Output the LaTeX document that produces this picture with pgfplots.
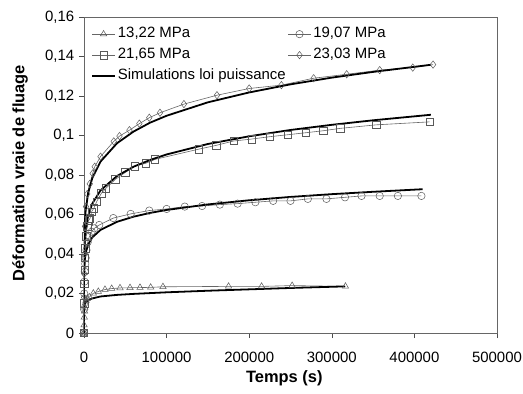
\documentclass[border=0pt]{standalone}
\usepackage{pgfplots}
\pgfplotsset{compat=1.18}
\usepackage{fontspec}
\setmainfont{Liberation Sans}
\begin{document}
\fontsize{14}{16}\selectfont
\begin{tikzpicture}
\begin{axis}[
  scale only axis, width=413bp, height=316bp,
  xmin=0, xmax=500000, ymin=0, ymax=0.16,
  xtick={0,100000,200000,300000,400000,500000},
  ytick={0,0.02,0.04,0.06,0.08,0.1,0.12,0.14,0.16},
  scaled x ticks=false, scaled y ticks=false,
  /pgf/number format/assume math mode=true,
  xticklabel style={/tikz/yshift=-9bp, /pgf/number format/.cd, fixed, 1000 sep={}},
  yticklabel style={/pgf/number format/.cd, fixed, use comma, precision=2},
  tick align=outside, xtick pos=left, ytick pos=left,
  major tick length=5bp,
  axis line style={black!60}, tick style={black!70},
  tick label style={font=\fontsize{15}{17}\selectfont},
  xlabel={Temps (s)}, ylabel={Déformation vraie de fluage},
  label style={font=\fontsize{16.5}{18}\selectfont\bfseries},
  xlabel style={at={(axis description cs:0.485,-0.142)}, anchor=center},
  ylabel style={at={(axis description cs:-0.155,0.506)}, anchor=center},
  legend style={draw=none, fill=none, at={(axis description cs:0.012,0.982)}, anchor=north west,
    font=\fontsize{15}{17}\selectfont, /tikz/column sep=0bp, /tikz/row sep=2.5bp,
    /tikz/every even column/.append style={column sep=0bp},
    nodes={inner ysep=2bp, text height=11bp, text depth=3.5bp},
    cells={anchor=west}, inner sep=2bp},
  legend columns=2,
  legend image code/.code={\draw[mark repeat=2,mark phase=2,#1] plot coordinates {(0bp,0bp) (11.5bp,0bp) (23bp,0bp)};},
  data/.style={black!60, line width=0.6pt, mark size=3.7bp, mark options={solid, fill=white, draw=black!65, line width=0.5pt}},
  sim/.style={black, line width=1.8pt, mark=none},
]
\coordinate (O) at (rel axis cs:0,0);
% 13,22 MPa
\addplot[data, mark=triangle] coordinates {
(0,0) (100,0.004) (300,0.008) (600,0.011) (1000,0.013) (1500,0.015) (2500,0.0165) (4000,0.0175)
(6500,0.0182) (11300,0.0201) (17300,0.0210) (25400,0.0220) (33500,0.0225) (43600,0.0228)
(55700,0.0229) (67800,0.0230) (80700,0.0231) (95600,0.0234) (175000,0.0236) (215000,0.0236)
(252000,0.0240) (316500,0.0236)};
\addlegendentry{13,22 MPa}
% 19,07 MPa
\addplot[data, mark=o] coordinates {
(0,0) (100,0.012) (300,0.020) (600,0.026) (1000,0.031) (1500,0.035) (2000,0.038) (3000,0.042)
(4500,0.046) (6500,0.0488) (9300,0.0513) (12500,0.0530) (18500,0.0547) (35500,0.0582)
(56500,0.0603) (79000,0.0620) (100000,0.0628) (122000,0.0640) (143000,0.0643) (164500,0.0650)
(186000,0.0655) (207500,0.0662) (229000,0.0669) (250000,0.0669) (271000,0.0679) (293500,0.0679)
(316000,0.0687) (336000,0.0694) (358000,0.0694) (380000,0.0694) (408500,0.0694)};
\addlegendentry{19,07 MPa}
% 21,65 MPa
\addplot[data, mark=square] coordinates {
(0,0) (100,0.015) (300,0.025) (600,0.032) (1000,0.038) (1500,0.043) (2500,0.049) (4000,0.054)
(5500,0.057) (7300,0.058) (9300,0.0615) (12000,0.0632) (15300,0.0665) (21000,0.0707)
(26600,0.0733) (38000,0.0778) (50000,0.0813) (61700,0.0845) (74500,0.0859) (86000,0.0879)
(139000,0.0931) (160000,0.0950) (181000,0.0972) (203000,0.0982) (225000,0.0994) (247000,0.1004)
(268500,0.1014) (289500,0.1024) (310000,0.1036) (354000,0.1054) (418500,0.1069)};
\addlegendentry{21,65 MPa}
% 23,03 MPa
\addplot[data, mark=diamond] coordinates {
(0,0) (100,0.018) (300,0.030) (600,0.040) (1200,0.054) (2400,0.064) (4000,0.0704) (7000,0.0755)
(10500,0.0808) (13000,0.0842) (20000,0.0893) (36000,0.0970) (43000,0.0997) (55000,0.1027)
(67000,0.1060) (79000,0.1090) (92000,0.1115) (121000,0.1159) (161000,0.1204) (200000,0.1238)
(239000,0.1255) (278000,0.1290) (318000,0.1310) (358000,0.1331) (398000,0.1344) (422580,0.1359)};
\addlegendentry{23,03 MPa}
% simulations
\addplot[sim] coordinates {
(0,0) (1,0.0203) (10,0.0284) (100,0.0399) (500,0.0505) (1000,0.0559) (2000,0.0619) (5000,0.0708)
(10000,0.0784) (20000,0.0868) (40000,0.0961) (60000,0.1020) (80000,0.1065) (100000,0.1100)
(150000,0.1168) (200000,0.1218) (250000,0.1259) (300000,0.1293) (350000,0.1322) (420000,0.1358)};
\addlegendentry{Simulations loi puissance}
\addplot[sim, forget plot] coordinates {
(0,0) (1,0.0180) (10,0.0249) (100,0.0344) (500,0.0430) (1000,0.0474) (2000,0.0523) (5000,0.0594)
(10000,0.0655) (20000,0.0722) (40000,0.0795) (60000,0.0842) (80000,0.0876) (100000,0.0904)
(150000,0.0957) (200000,0.0996) (250000,0.1028) (300000,0.1054) (350000,0.1077) (420000,0.1105)};
\addplot[sim, forget plot] coordinates {
(0,0) (1,0.0176) (10,0.0226) (100,0.0291) (500,0.0348) (1000,0.0375) (2000,0.0405) (5000,0.0448)
(10000,0.0484) (20000,0.0522) (40000,0.0563) (60000,0.0589) (80000,0.0608) (100000,0.0623)
(150000,0.0651) (200000,0.0672) (250000,0.0689) (300000,0.0703) (350000,0.0715) (410000,0.0728)};
\addplot[sim, forget plot] coordinates {
(0,0) (1,0.0070) (10,0.0090) (100,0.0110) (500,0.0135) (1000,0.0145) (2000,0.0155) (5000,0.0167)
(10000,0.0175) (20000,0.0185) (40000,0.0193) (60000,0.0198) (80000,0.0202) (100000,0.0206)
(150000,0.0214) (200000,0.0221) (250000,0.0228) (316000,0.0236)};
\end{axis}
\pgfresetboundingbox
\path (O) ++(-84bp,-61bp) rectangle ++(523bp,394bp);
\end{tikzpicture}
\end{document}
